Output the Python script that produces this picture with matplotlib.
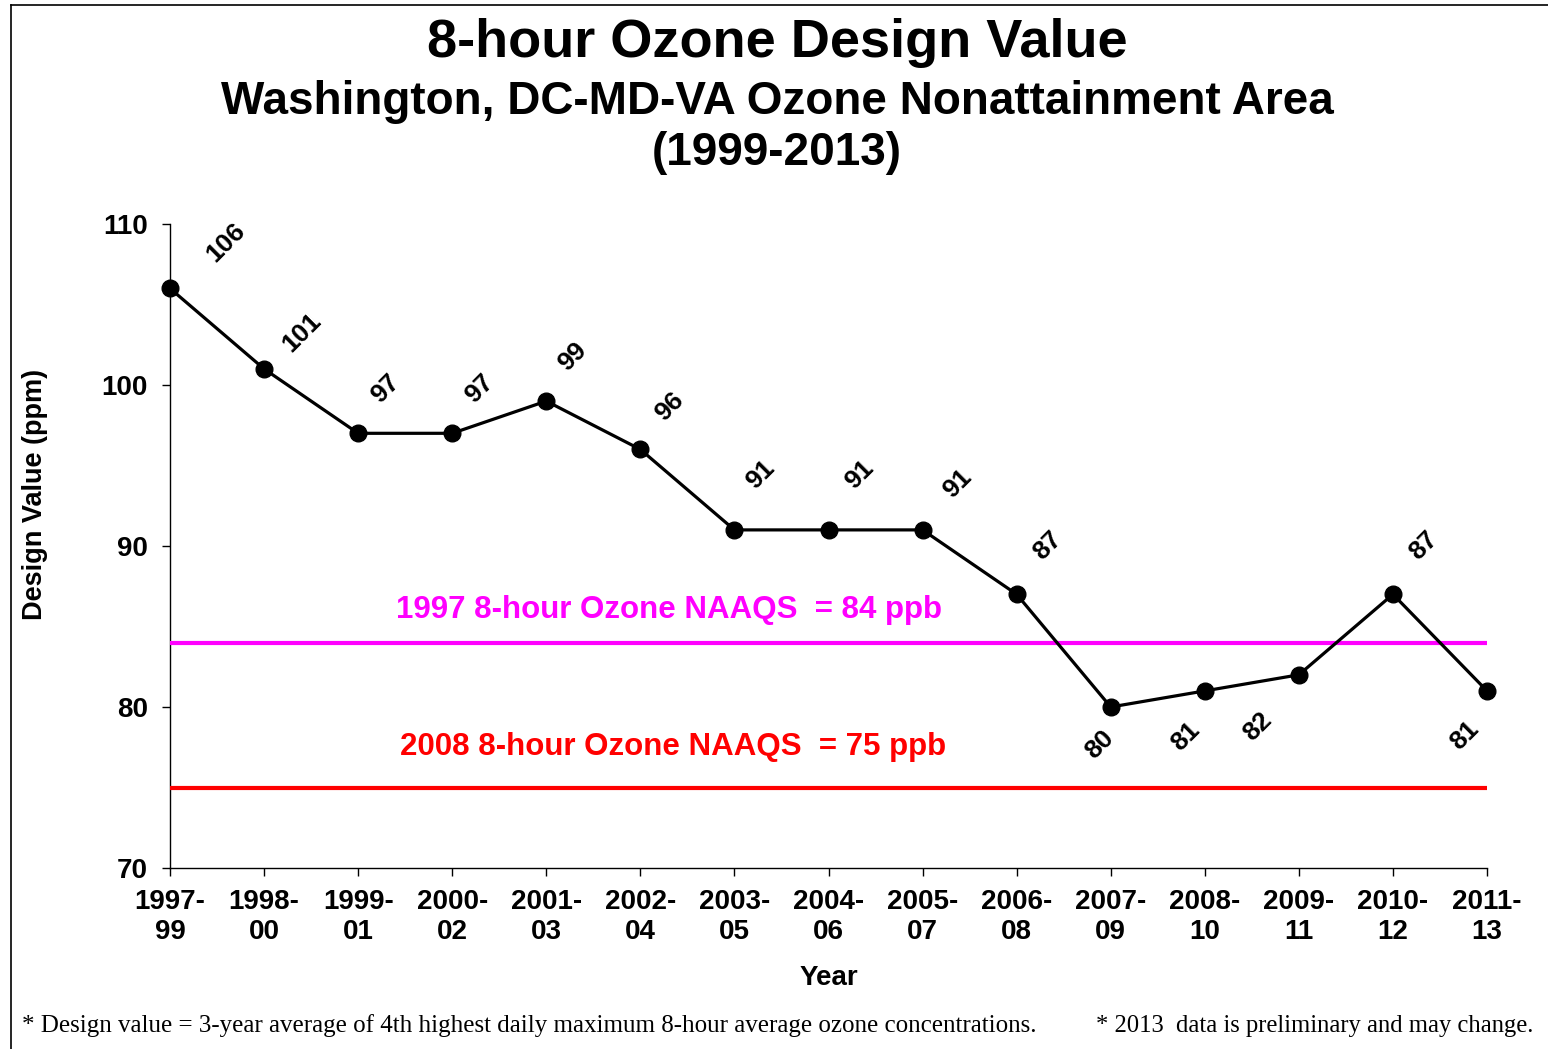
import matplotlib
matplotlib.use("Agg")
import matplotlib.pyplot as plt
from matplotlib.lines import Line2D

plt.rcParams['font.family'] = ['Liberation Sans', 'DejaVu Sans']

periods = ["1997-\n99", "1998-\n00", "1999-\n01", "2000-\n02", "2001-\n03", "2002-\n04",
           "2003-\n05", "2004-\n06", "2005-\n07", "2006-\n08", "2007-\n09", "2008-\n10",
           "2009-\n11", "2010-\n12", "2011-\n13"]
design_values = [106, 101, 97, 97, 99, 96, 91, 91, 91, 87, 80, 81, 82, 87, 81]
naaqs_1997 = 84
naaqs_2008 = 75
yticks = [70, 80, 90, 100, 110]

# label offsets in points (dx, dy)
label_offsets = [(40, 33), (27, 26), (20, 32), (20, 32), (19, 32), (21, 31),
                 (19, 40), (22, 40), (25, 33), (22, 35), (-8, -27), (-14, -33),
                 (-30, -37), (22, 35), (-16, -32)]

W, H = 1548, 1049
fig = plt.figure(figsize=(W / 100, H / 100), dpi=100)
ax = fig.add_axes([170 / W, 1 - 868 / H, (1487 - 170) / W, (868 - 224) / H])

x = list(range(len(periods)))
ax.plot(x, design_values, color='black', lw=2.3, marker='o', ms=12, zorder=5, clip_on=False)
ax.axhline(naaqs_1997, color='#FF00FF', lw=3, zorder=3)
ax.axhline(naaqs_2008, color='#FF0000', lw=3, zorder=3)

for xi, v, (dx, dy) in zip(x, design_values, label_offsets):
    ax.annotate(str(v), (xi, v), xytext=(dx, dy), textcoords='offset points',
                rotation=45, ha='center', va='center', fontsize=19, fontweight='bold')

ax.text(5.3, naaqs_1997 + 2, "1997 8-hour Ozone NAAQS  = 84 ppb", color='#FF00FF',
        ha='center', va='center', fontsize=22.5, fontweight='bold')
ax.text(5.35, naaqs_2008 + 2.5, "2008 8-hour Ozone NAAQS  = 75 ppb", color='#FF0000',
        ha='center', va='center', fontsize=22.5, fontweight='bold')

ax.set_xlim(0, len(periods) - 1)
ax.set_ylim(70, 110)
ax.set_yticks(yticks)
ax.set_xticks(x)
ax.set_xticklabels(periods, fontsize=20, fontweight='bold', linespacing=1.22)
ax.set_yticklabels([str(t) for t in yticks], fontsize=20, fontweight='bold')
ax.tick_params(axis='both', direction='out', length=6, width=1, pad=10)
ax.tick_params(axis='x', pad=9)
for s in ['top', 'right']:
    ax.spines[s].set_visible(False)
for s in ['left', 'bottom']:
    ax.spines[s].set_linewidth(1)

ax.set_xlabel("Year", fontsize=20, fontweight='bold', labelpad=14)
fig.text(35 / W, 1 - 494 / H, "Design Value (ppm)", rotation=90, ha='center', va='center',
         fontsize=19.5, fontweight='bold')

fig.text(777 / W, 1 - 43 / H, "8-hour Ozone Design Value", ha='center', va='center',
         fontsize=39, fontweight='bold')
fig.text(777 / W, 1 - 102 / H, "Washington, DC-MD-VA Ozone Nonattainment Area", ha='center',
         va='center', fontsize=33, fontweight='bold')
fig.text(777 / W, 1 - 153 / H, "(1999-2013)", ha='center', va='center',
         fontsize=33, fontweight='bold')

fig.text(22 / W, 1 - 1026 / H,
         "* Design value = 3-year average of 4th highest daily maximum 8-hour average ozone concentrations.",
         ha='left', va='center', fontsize=18, family=['Liberation Serif'])
fig.text(1533 / W, 1 - 1026 / H, "* 2013  data is preliminary and may change.",
         ha='right', va='center', fontsize=17.7, family=['Liberation Serif'])

fig.add_artist(Line2D([10.5 / W, 10.5 / W], [0, 1 - 4.5 / H], transform=fig.transFigure,
                      color='black', lw=1.2))
fig.add_artist(Line2D([10.5 / W, 1], [1 - 4.5 / H, 1 - 4.5 / H], transform=fig.transFigure,
                      color='black', lw=1.2))

fig.savefig("out.png", dpi=100)
